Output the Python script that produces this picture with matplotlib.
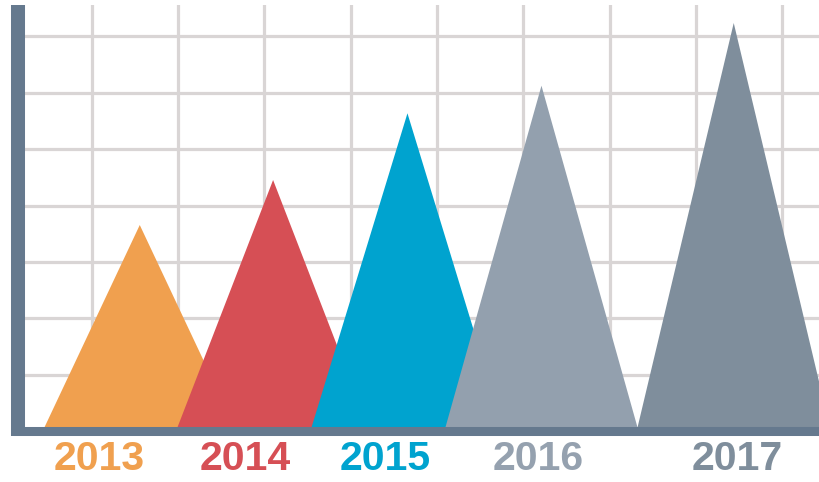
import matplotlib
matplotlib.use("Agg")
import matplotlib.pyplot as plt

# Données (unités = cases de la grille)
annees = ["2013", "2014", "2015", "2016", "2017"]
centres = [1.556, 3.101, 4.658, 6.211, 8.439]
hauteurs = [3.654, 4.452, 5.635, 6.124, 7.236]
pos_labels = [1.089, 2.781, 4.401, 6.174, 8.476]
couleurs = ["#F0A04F", "#D64F55", "#00A3CF", "#93A0AE", "#7F8E9C"]
couleurs_labels = ["#F0A04F", "#D64F55", "#00A3CF", "#95A1AF", "#7F8E9C"]
demi_base = 1.125

plt.rcParams["font.family"] = ["Liberation Sans", "DejaVu Sans"]

fig = plt.figure(figsize=(8.19, 4.82), dpi=100)
ax = fig.add_axes([18 / 819, (482 - 431.1) / 482, (819 - 18) / 819, (431.1 - 5) / 482])

# On dessine les triangles
for c, h, col in zip(centres, hauteurs, couleurs):
	ax.fill([c - demi_base, c, c + demi_base], [0, h, 0], color=col, lw=0, zorder=2)

# Grille
ax.set_xticks(range(1, 10))
ax.set_yticks(range(1, 8))
ax.grid(True, color="#D9D5D5", lw=2.3)
ax.set_axisbelow(True)
ax.tick_params(length=0, labelbottom=False, labelleft=False)

ax.set_xlim(0.145, 9.427)
ax.set_ylim(0, 7.555)

# Axes
for s in ["top", "right"]:
	ax.spines[s].set_visible(False)
ax.spines["left"].set_color("#65798E")
ax.spines["left"].set_linewidth(10.1)
ax.spines["left"].set_capstyle("butt")
ax.spines["left"].set_bounds(-0.08, 7.555)
ax.spines["bottom"].set_color("#65798E")
ax.spines["bottom"].set_linewidth(6.5)
ax.spines["left"].set_zorder(5)
ax.spines["bottom"].set_zorder(5)

# Étiquettes des années
for x, a, col in zip(pos_labels, annees, couleurs_labels):
	ax.text(x, -0.49, a, color=col, fontsize=29.5, fontweight="bold",
			ha="center", va="center", clip_on=False)

fig.savefig("out.png", dpi=100)
